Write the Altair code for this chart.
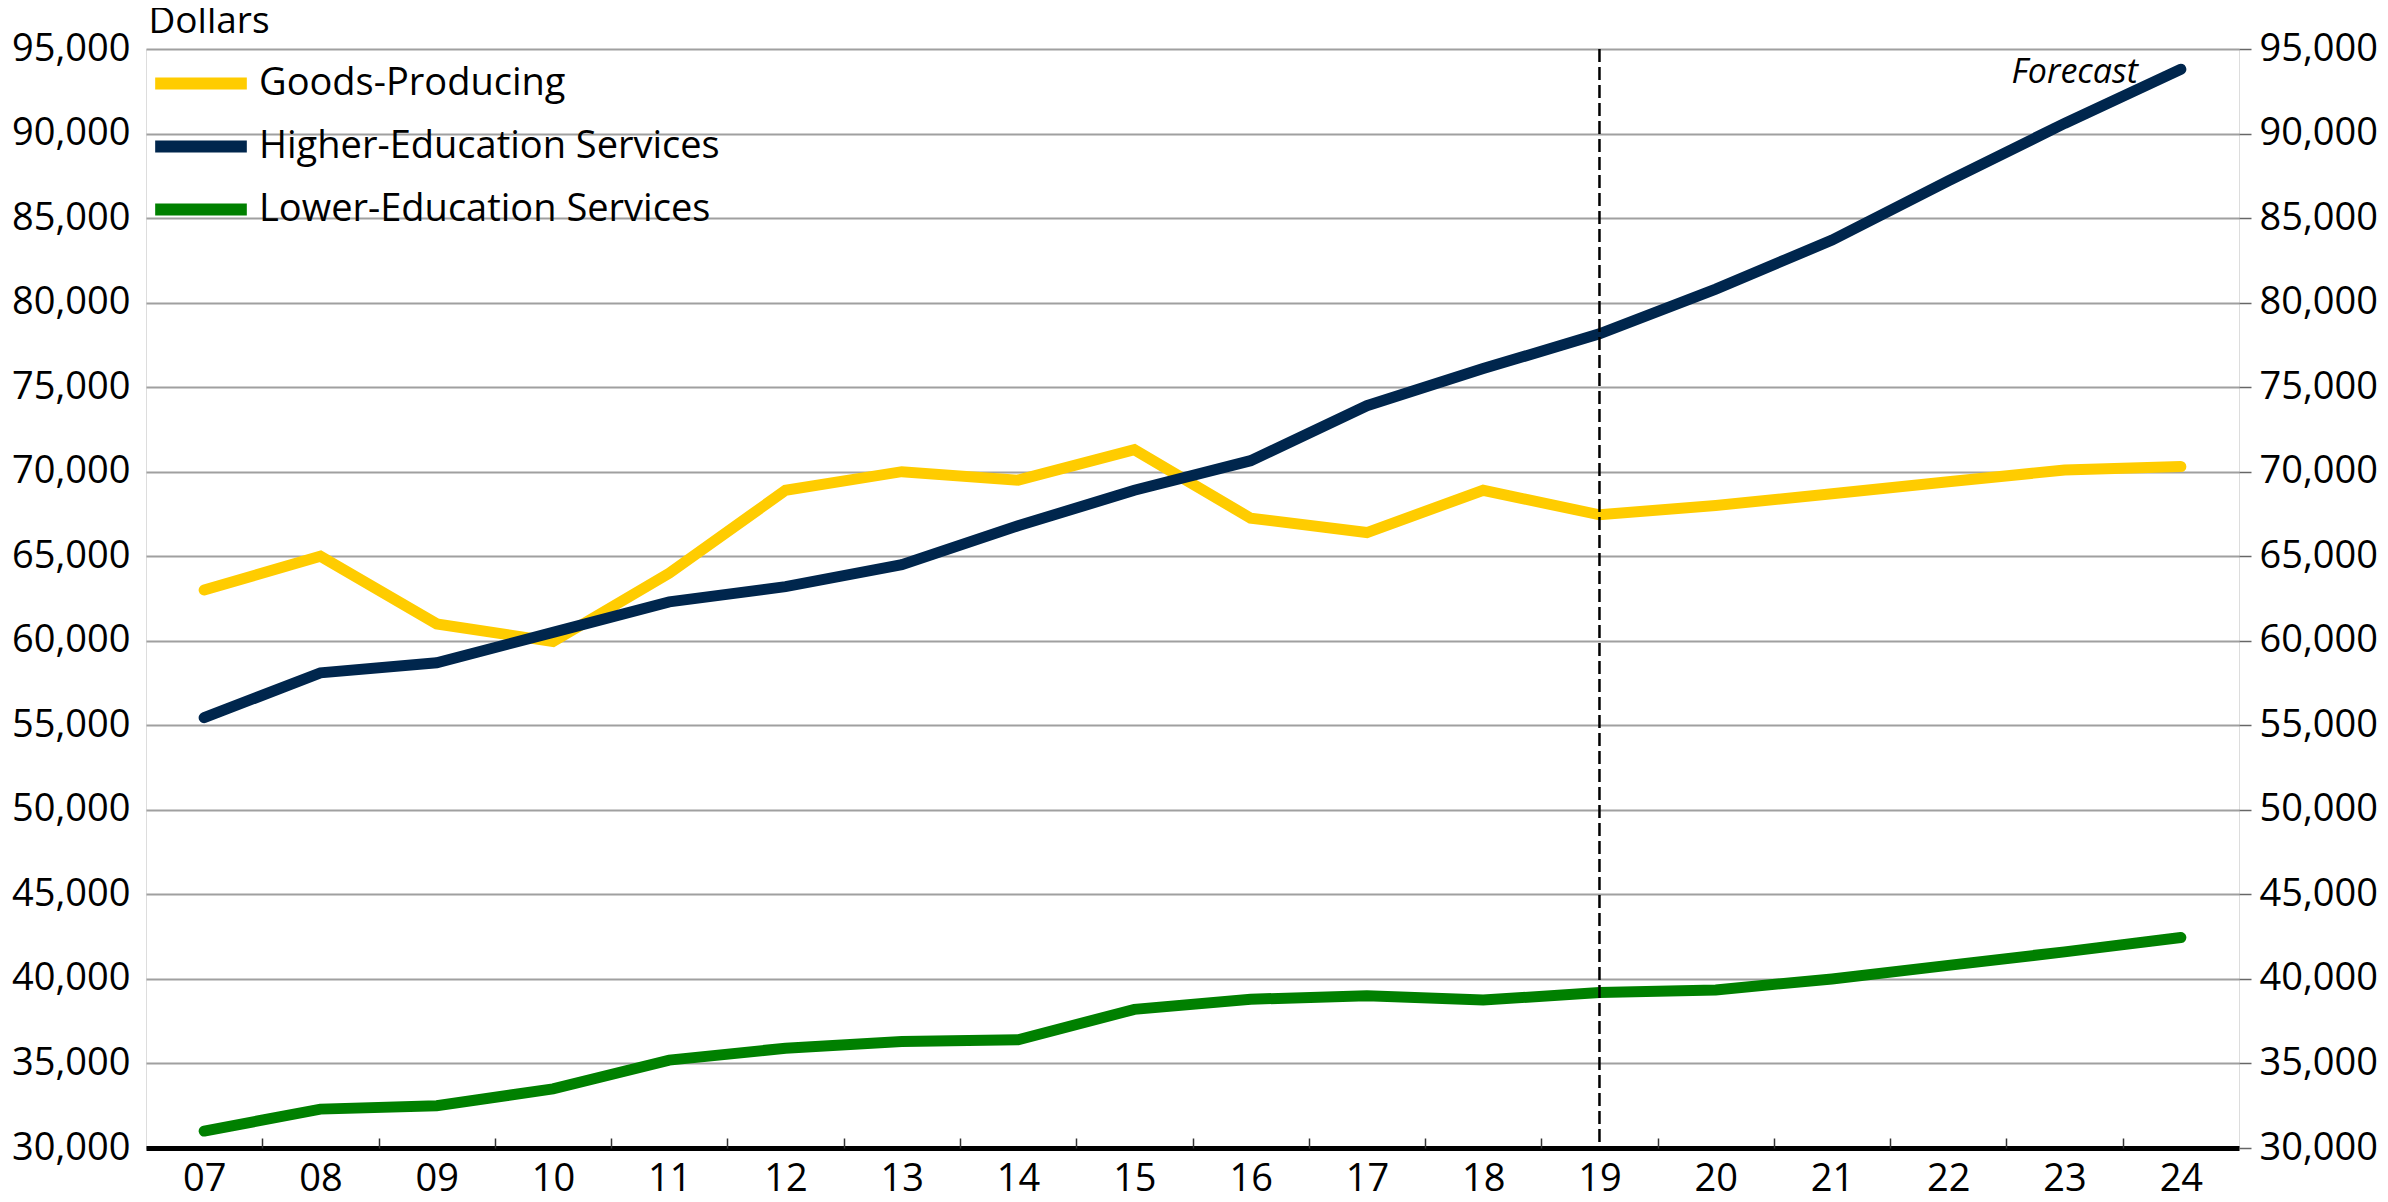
import altair as alt
import pandas as pd

years = list(range(7, 25))
goods = [63000, 65000, 61000, 59950, 64000, 68900, 70000, 69500, 71300, 67250,
         66400, 68900, 67450, 68000, 68700, 69400, 70100, 70300]
higher = [55450, 58100, 58700, 60500, 62300, 63200, 64500, 66800, 68900, 70650,
          73900, 76100, 78150, 80800, 83700, 87200, 90600, 93800]
lower = [31000, 32300, 32500, 33500, 35200, 35900, 36300, 36400, 38200, 38800,
         39000, 38750, 39200, 39350, 40000, 40800, 41600, 42450]
series_names = ["Goods-Producing", "Higher-Education Services", "Lower-Education Services"]
series_colors = ["#FFCC00", "#00264D", "#008000"]
y_ticks = list(range(30000, 95001, 5000))
boundary_ticks = [y + 0.5 for y in range(7, 24)]
forecast_year = 19

rows = []
for name, vals in zip(series_names, [goods, higher, lower]):
    for yr, v in zip(years, vals):
        rows.append({"year": yr, "value": v, "series": name})
df = pd.DataFrame(rows)

FONT = "Open Sans, Noto Sans, sans-serif"
xscale = alt.Scale(domain=[6.5, 24.5], nice=False, zero=False)
yscale = alt.Scale(domain=[30000, 95000], nice=False, zero=False)
YLABEL = "format(datum.value, ',')"

lines = alt.Chart(df).mark_line(strokeWidth=11, strokeCap="round", strokeJoin="miter").encode(
    x=alt.X("year:Q", scale=xscale,
            axis=alt.Axis(values=years, orient="bottom",
                          labelExpr="datum.value < 10 ? '0' + datum.value : '' + datum.value",
                          title=None, grid=False, ticks=False, domain=True, domainColor="black",
                          domainWidth=5, labelFont=FONT, labelFontSize=38, labelColor="black",
                          labelPadding=12)),
    y=alt.Y("value:Q", scale=yscale,
            axis=alt.Axis(values=y_ticks, labelExpr=YLABEL, orient="left", title="Dollars",
                          titleAngle=0, titleAlign="left", titleBaseline="alphabetic",
                          titleX=2, titleY=-17, titleFont=FONT, titleFontSize=37,
                          titleFontWeight="normal", titleColor="black",
                          grid=True, gridColor="#a0a0a0", gridWidth=2, ticks=False,
                          domain=False, labelFont=FONT, labelFontSize=38, labelColor="black",
                          labelPadding=16)),
    color=alt.Color("series:N", sort=series_names,
                    scale=alt.Scale(domain=series_names, range=series_colors),
                    legend=alt.Legend(title=None, orient="none", legendX=3, legendY=3,
                                      symbolType="stroke",
                                      symbolStrokeWidth=12, symbolSize=8400,
                                      labelFont=FONT, labelFontSize=38, labelColor="black",
                                      labelLimit=900, rowPadding=0, clipHeight=63,
                                      labelOffset=6, padding=0)),
)

right_axis = alt.Chart(df).mark_line(opacity=0).encode(
    x=alt.X("year:Q", scale=xscale,
            axis=alt.Axis(values=boundary_ticks, orient="bottom", labels=False, title=None,
                          grid=False, ticks=True, tickSize=10, tickColor="#333333",
                          tickWidth=1.5, domain=False, offset=-10)),
    y=alt.Y("value:Q", scale=yscale,
            axis=alt.Axis(values=y_ticks, labelExpr=YLABEL, orient="right", title=None,
                          grid=False, ticks=True, tickSize=12, tickColor="#666666",
                          tickWidth=1.5, domain=False, labelFont=FONT, labelFontSize=38,
                          labelColor="black", labelPadding=8)),
    detail="series:N",
)

rule_df = pd.DataFrame({"year": [forecast_year]})
rule = alt.Chart(rule_df).mark_rule(color="black", strokeWidth=2.5, strokeDash=[13, 5]).encode(
    x=alt.X("year:Q", scale=xscale, axis=None),
)

text_df = pd.DataFrame({"year": [24], "value": [95000], "label": ["Forecast"]})
text = alt.Chart(text_df).mark_text(align="right", baseline="alphabetic", dx=-43, dy=34,
                                     font=FONT, fontSize=34, fontStyle="italic",
                                     color="black").encode(
    x=alt.X("year:Q", scale=xscale, axis=None),
    y=alt.Y("value:Q", scale=yscale, axis=None),
    text="label:N",
)

chart = alt.layer(lines, rule, text, right_axis).resolve_scale(
    x="shared", y="shared"
).resolve_axis(x="independent", y="independent").properties(
    width=2093, height=1099,
    autosize=alt.AutoSizeParams(type="none"),
    padding={"left": 138, "top": 41, "right": 140, "bottom": 46},
).configure_view(stroke="black", strokeWidth=3).configure(background="white")

chart.save("out.html", embed_options={"renderer": "svg", "actions": False})
